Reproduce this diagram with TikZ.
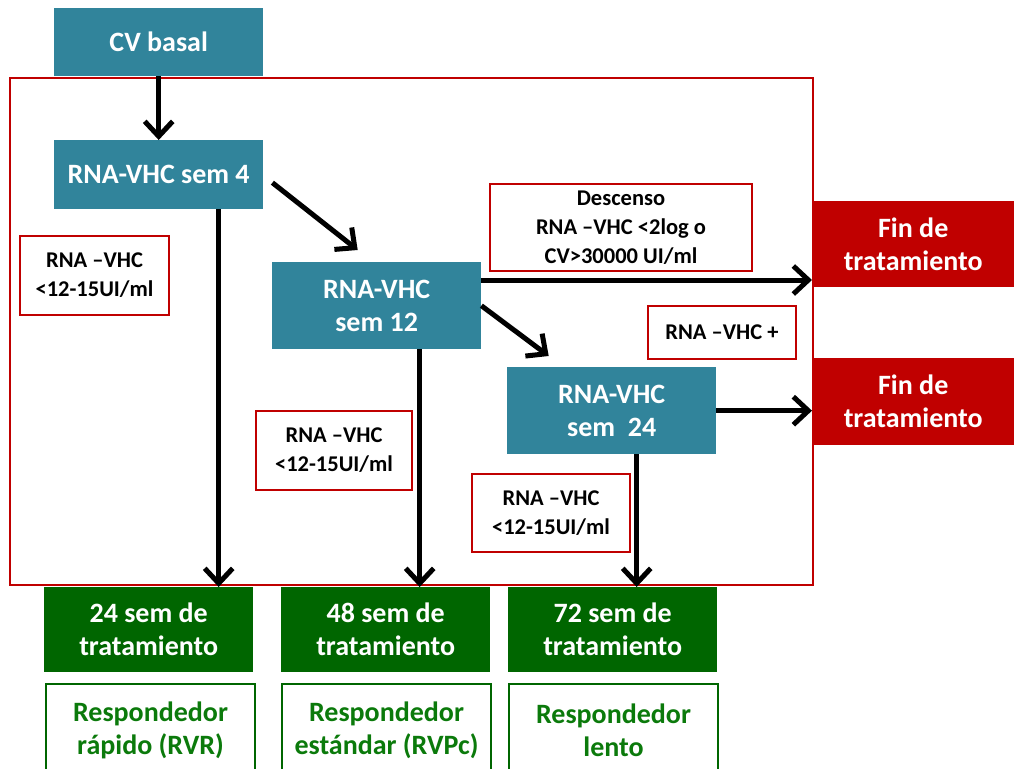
\documentclass[tikz,border=0pt]{standalone}
\usepackage{fontspec}
\setmainfont{Carlito}
\usetikzlibrary{arrows.meta}
\definecolor{azul}{HTML}{31849B}
\definecolor{rojo}{HTML}{C00000}
\definecolor{verde}{HTML}{006600}
\definecolor{verdetxt}{HTML}{0B7A0B}
\begin{document}
\begin{tikzpicture}[x=1pt,y=-1pt,
  caja/.style={fill=azul, text=white, anchor=north west, inner sep=0pt, align=center,
    font=\fontsize{28}{33}\selectfont\bfseries},
  fin/.style={caja, fill=rojo},
  semanas/.style={caja, fill=verde},
  respuesta/.style={caja, fill=white, text=verdetxt, draw=verde, line width=2pt},
  nota/.style={draw=rojo, fill=white, line width=2pt, anchor=north west, inner sep=0pt, align=center,
    font=\fontsize{22.5}{29}\selectfont\bfseries},
  flecha/.style={line width=5pt, -{Straight Barb[length=15pt,width=28pt]}}]
\useasboundingbox (0,0) rectangle (1014,768);
\draw[rojo, line width=2pt] (10,78) rectangle (813,585);

\node[caja, minimum width=209pt, minimum height=68pt] (cv) at (54,8) {CV basal};
\node[caja, minimum width=209pt, minimum height=69pt] (s4) at (54,140) {RNA-VHC sem 4};
\node[caja, minimum width=209pt, minimum height=87pt] (s12) at (272,262) {RNA-VHC\\sem 12};
\node[caja, minimum width=209pt, minimum height=87pt] (s24) at (507,367) {RNA-VHC\\sem\ \ 24};

\node[fin, minimum width=202pt, minimum height=86pt] (fin1) at (812,201) {Fin de\\tratamiento};
\node[fin, minimum width=202pt, minimum height=87pt] (fin2) at (812,358) {Fin de\\tratamiento};

\node[nota, minimum width=149pt, minimum height=79pt] (n4) at (19,235) {RNA –VHC\\<12-15UI/ml};
\node[nota, minimum width=262pt, minimum height=87pt] (ndesc) at (489,183) {Descenso\\RNA –VHC <2log o\\CV>30000 UI/ml};
\node[nota, minimum width=148pt, minimum height=53pt] (nmas) at (647,305) {RNA –VHC +};
\node[nota, minimum width=156pt, minimum height=79pt] (n12) at (255,410) {RNA –VHC\\<12-15UI/ml};
\node[nota, minimum width=158pt, minimum height=78pt] (n24) at (471,473) {RNA –VHC\\<12-15UI/ml};

\node[semanas, minimum width=209pt, minimum height=85pt] (t24) at (44,587) {24 sem de\\tratamiento};
\node[semanas, minimum width=209pt, minimum height=85pt] (t48) at (281,587) {48 sem de\\tratamiento};
\node[semanas, minimum width=209pt, minimum height=85pt] (t72) at (508,587) {72 sem de\\tratamiento};

\node[respuesta, minimum width=209pt, minimum height=92pt] (r24) at (45,683) {Respondedor\\rápido (RVR)};
\node[respuesta, minimum width=209pt, minimum height=92pt] (r48) at (281,683) {Respondedor\\estándar (RVPc)};
\node[respuesta, minimum width=209pt, minimum height=92pt] (r72) at (508,683) {Respondedor\\lento};

\draw[flecha] (cv) -- (s4);
\draw[flecha] ([shift={(9,8)}]s4.east) -- ([shift={(-19,-12)}]s12.north);
\coordinate (p12) at ([shift={(0,18)}]s12.north east);
\draw[flecha] (p12) -- (p12 -| fin1.west);
\draw[flecha] (s12.east) -- ([shift={(-63,-11)}]s24.north);
\draw[flecha] (s24.east) -- (s24.east -| fin2.west);
\coordinate (b4) at ([xshift=60pt]s4.south);
\coordinate (b12) at ([xshift=43pt]s12.south);
\coordinate (b24) at ([xshift=25pt]s24.south);
\draw[flecha] (b4) -- (b4 |- t24.north);
\draw[flecha] (b12) -- (b12 |- t48.north);
\draw[flecha] (b24) -- (b24 |- t72.north);
\end{tikzpicture}
\end{document}
